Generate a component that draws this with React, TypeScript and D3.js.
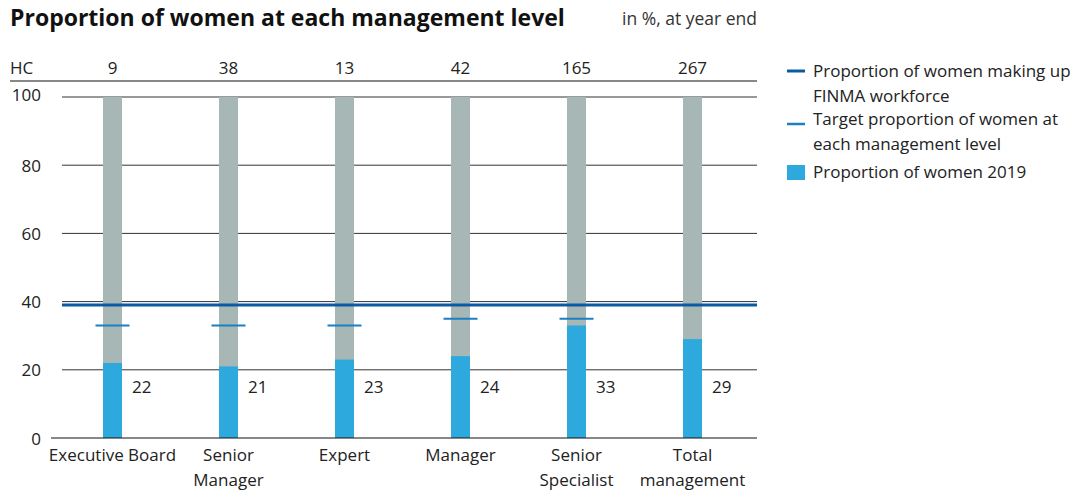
import React from "react";
import * as d3 from "d3";

const categories = [
  ["Executive Board"],
  ["Senior", "Manager"],
  ["Expert"],
  ["Manager"],
  ["Senior", "Specialist"],
  ["Total", "management"],
];
const headcount = [9, 38, 13, 42, 165, 267];
const women2019 = [22, 21, 23, 24, 33, 29];
const targets = [33, 33, 33, 35, 35, null];
const workforceShare = 39;
const yTicks = [0, 20, 40, 60, 80, 100];
const legendItems = [
  { kind: "line", lines: ["Proportion of women making up", "FINMA workforce"] },
  { kind: "target", lines: ["Target proportion of women at", "each management level"] },
  { kind: "bar", lines: ["Proportion of women 2019"] },
];

const W = 1085;
const H = 490;
const FONT = "'Open Sans', sans-serif";
const GRAY = "#a7b7b6";
const BLUE = "#2ea9de";
const DARK = "#0b5aa2";
const TARGET = "#1a7fc3";
const TEXT = "#222";
const FS = 17;

export default function App() {
  const plot = { left: 62, right: 757, top: 97, bottom: 438 };
  const keys = categories.map((c) => c.join(" "));
  const x = d3.scaleBand().domain(keys).range([54.5, 750.5]).padding(0);
  const y = d3.scaleLinear().domain([0, 100]).range([plot.bottom, plot.top]);
  const barW = 19;
  const cx = (i: number) => (x(keys[i]) as number) + x.bandwidth() / 2;

  return (
    <div style={{ position: "absolute", left: 0, top: 0 }}>
      <svg width={W} height={H} style={{ display: "block" }} fontFamily={FONT}>
        <text x={10} y={26} fontSize={23} fontWeight={700} fill="#111">
          Proportion of women at each management level
        </text>
        <text x={757} y={25} fontSize={17.5} fill="#333" textAnchor="end">
          in %, at year end
        </text>

        {/* headcount row */}
        <text x={10} y={74} fontSize={FS} fill={TEXT}>HC</text>
        {headcount.map((d, i) => (
          <text key={"hc" + i} x={cx(i)} y={74} fontSize={FS} fill={TEXT} textAnchor="middle">
            {d}
          </text>
        ))}
        <line x1={10} x2={plot.right} y1={81} y2={81} stroke="#111" strokeWidth={1} />

        {/* grid + y labels */}
        {yTicks.map((t) => (
          <g key={"t" + t}>
            {t > 0 && (
              <line x1={plot.left} x2={plot.right} y1={y(t)} y2={y(t)} stroke="#333" strokeWidth={1} />
            )}
            <text
              x={41}
              y={y(t) - (t === 100 ? 3 : 0)}
              fontSize={FS}
              fill={TEXT}
              textAnchor="end"
              dominantBaseline="central"
            >
              {t}
            </text>
          </g>
        ))}

        {/* bars */}
        {women2019.map((v, i) => (
          <g key={"b" + i}>
            <rect x={cx(i) - barW / 2} width={barW} y={y(100)} height={y(0) - y(100)} fill={GRAY} />
            <rect x={cx(i) - barW / 2} width={barW} y={y(v)} height={y(0) - y(v)} fill={BLUE} />
            <text x={cx(i) + barW / 2 + 10} y={y(0) - 45} fontSize={FS} fill={TEXT}>
              {v}
            </text>
          </g>
        ))}

        {/* zero axis */}
        <line x1={51} x2={plot.right} y1={y(0)} y2={y(0)} stroke="#111" strokeWidth={1} />

        {/* targets */}
        {targets.map((t, i) =>
          t == null ? null : (
            <line key={"tg" + i} x1={cx(i) - 17} x2={cx(i) + 17} y1={y(t)} y2={y(t)} stroke={TARGET} strokeWidth={2} />
          )
        )}

        {/* workforce line */}
        <line
          x1={plot.left}
          x2={plot.right}
          y1={y(workforceShare)}
          y2={y(workforceShare)}
          stroke={DARK}
          strokeWidth={3}
        />

        {/* category labels */}
        {categories.map((c, i) => (
          <text key={"c" + i} x={cx(i)} fontSize={FS} fill={TEXT} textAnchor="middle">
            {c.map((l, j) => (
              <tspan key={j} x={cx(i)} y={461 + j * 25}>
                {l}
              </tspan>
            ))}
          </text>
        ))}

        {/* legend */}
        {legendItems.map((it, k) => {
          const top = [77, 125, 178][k];
          return (
            <g key={"l" + k}>
              {it.kind === "line" && (
                <line x1={787} x2={805} y1={top - 6} y2={top - 6} stroke={DARK} strokeWidth={3} />
              )}
              {it.kind === "target" && (
                <line x1={787} x2={805} y1={top - 1} y2={top - 1} stroke={TARGET} strokeWidth={2.5} />
              )}
              {it.kind === "bar" && <rect x={787} y={top - 13} width={18} height={15} fill={BLUE} />}
              <text fontSize={FS} fill={TEXT}>
                {it.lines.map((l, j) => (
                  <tspan key={j} x={813} y={top + j * 25}>
                    {l}
                  </tspan>
                ))}
              </text>
            </g>
          );
        })}
      </svg>
    </div>
  );
}
